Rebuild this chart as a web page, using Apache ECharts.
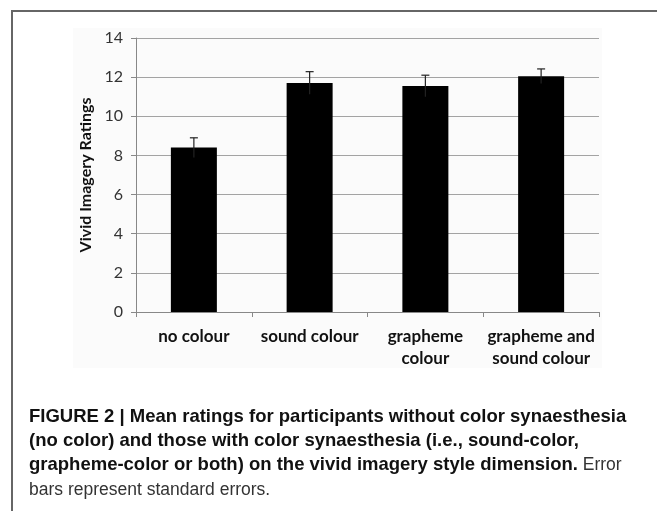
<!DOCTYPE html>
<html>
<head>
<meta charset="utf-8">
<script src="https://cdn.jsdelivr.net/npm/echarts@6/dist/echarts.min.js"></script>
<style>
  html, body { margin: 0; background: #fff; }
  #chart { width: 657px; height: 511px; }
</style>
</head>
<body>
<div id="chart"></div>
<script>
// data
const categories = ['no colour', 'sound colour', 'grapheme\ncolour', 'grapheme and\nsound colour']
const means = [8.4, 11.7, 11.55, 12.05]
const errors = [0.5, 0.58, 0.55, 0.37]
const yMin = 0
const yMax = 14
const yStep = 2

const captionLines = [
  [['b', 'FIGURE 2 | Mean ratings for participants without color synaesthesia']],
  [['b', '(no color) and those with color synaesthesia (i.e., sound-color,']],
  [['b', 'grapheme-color or both) on the vivid imagery style dimension.'], ['r', ' Error']],
  [['r', 'bars represent standard errors.']]
]

const chart = echarts.init(document.getElementById('chart'))

const labelFont = 'Lato, "Open Sans", sans-serif'
const capFont = '"Liberation Sans", Arial, sans-serif'

// caption + frame drawn as graphic elements
const graphics = [
  {
    type: 'rect', z: -10, silent: true,
    shape: { x: 73, y: 28, width: 529, height: 340 },
    style: { fill: '#fbfbfb' }
  },
  {
    type: 'rect', silent: true,
    shape: { x: 12, y: 11, width: 700, height: 600 },
    style: { fill: 'none', stroke: '#666', lineWidth: 2 }
  }
]
captionLines.forEach((parts, i) => {
  graphics.push({
    type: 'text',
    x: 29,
    y: 416.5 + i * 24.4,
    style: {
      text: parts.map(p => '{' + p[0] + '|' + p[1] + '}').join(''),
      verticalAlign: 'middle',
      rich: {
        b: { fontFamily: capFont, fontWeight: 'bold', fontSize: 18.5, fill: '#111' },
        r: { fontFamily: capFont, fontWeight: 'normal', fontSize: 17.5, fill: '#333' }
      }
    }
  })
})

const option = {
  backgroundColor: '#fff',
  animation: false,
  grid: { left: 136, right: 58, top: 38, bottom: 199 },
  xAxis: {
    type: 'category',
    data: categories,
    axisLine: { lineStyle: { color: '#888', width: 1 } },
    axisTick: { show: true, length: 5, lineStyle: { color: '#888' } },
    axisLabel: {
      interval: 0,
      color: '#111', fontFamily: labelFont, fontWeight: 'bold',
      fontSize: 17, lineHeight: 22, margin: 14
    }
  },
  yAxis: {
    type: 'value',
    min: yMin, max: yMax, interval: yStep,
    name: 'Vivid Imagery Ratings',
    nameLocation: 'middle',
    nameRotate: 90,
    nameGap: 40,
    nameTextStyle: { color: '#111', fontFamily: labelFont, fontWeight: 'bold', fontSize: 16 },
    axisLine: { show: true, lineStyle: { color: '#888' } },
    axisTick: { show: true, length: 5, lineStyle: { color: '#888' } },
    axisLabel: { color: '#333', fontFamily: labelFont, fontSize: 16, margin: 13 },
    splitLine: { lineStyle: { color: '#a3a3a3', width: 1 } }
  },
  graphic: graphics,
  series: [
    {
      type: 'bar',
      data: means,
      barWidth: 46,
      itemStyle: { color: '#000' }
    },
    {
      type: 'custom',
      data: means.map((m, i) => [i, m, errors[i]]),
      encode: { x: 0, y: 1 },
      z: 5,
      renderItem: (params, api) => {
        const i = api.value(0)
        const m = api.value(1)
        const e = api.value(2)
        const top = api.coord([i, m + e])
        const bot = api.coord([i, m - e])
        const half = 4
        const st = { stroke: '#222', lineWidth: 1.2 }
        return {
          type: 'group',
          children: [
            { type: 'line', shape: { x1: top[0], y1: top[1], x2: bot[0], y2: bot[1] }, style: st },
            { type: 'line', shape: { x1: top[0] - half, y1: top[1], x2: top[0] + half, y2: top[1] }, style: st }
          ]
        }
      }
    }
  ]
}

chart.setOption(option)
</script>
</body>
</html>
